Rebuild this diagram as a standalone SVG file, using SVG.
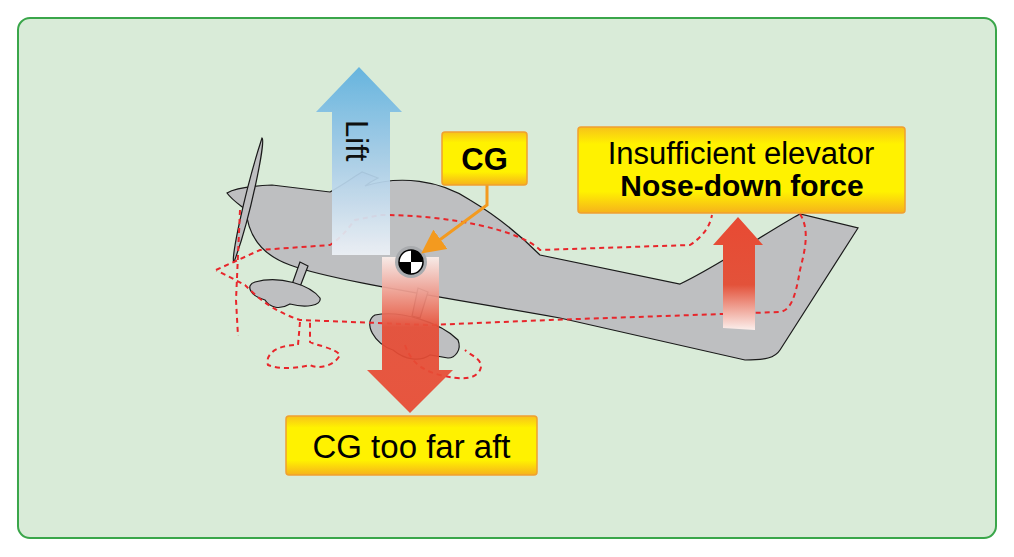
<svg xmlns="http://www.w3.org/2000/svg" width="1014" height="557" viewBox="0 0 1014 557">
<defs>
<linearGradient id="yel" x1="0" y1="0" x2="0" y2="1"><stop offset="0" stop-color="#f7c21a"/><stop offset="0.2" stop-color="#fff200"/><stop offset="0.75" stop-color="#fff200"/><stop offset="1" stop-color="#f6b21c"/></linearGradient>
<linearGradient id="lift" x1="0" y1="0" x2="0" y2="1"><stop offset="0" stop-color="#5eb1df"/><stop offset="0.5" stop-color="#a8cde8"/><stop offset="1" stop-color="#eef2f7"/></linearGradient>
<linearGradient id="down" x1="0" y1="0" x2="0" y2="1"><stop offset="0" stop-color="#fbeeea"/><stop offset="0.45" stop-color="#e64d36"/><stop offset="1" stop-color="#e84a33"/></linearGradient>
<linearGradient id="up" x1="0" y1="0" x2="0" y2="1"><stop offset="0" stop-color="#e84a33"/><stop offset="0.6" stop-color="#e3523a"/><stop offset="1" stop-color="#fbefec"/></linearGradient>
<marker id="oa" markerWidth="8" markerHeight="8" refX="6" refY="4" orient="auto" markerUnits="strokeWidth"><path d="M0,0 L8,4 L0,8 z" fill="#f39a1f"/></marker>
</defs>
<style>
.box{fill:url(#yel);stroke:#f0a030;stroke-width:1.5}
.t{font-family:"Liberation Sans",Arial,sans-serif;fill:#000}
.plane{fill:#bebfc1;stroke:#1a1a1a;stroke-width:1.2}
.ghost{fill:none;stroke:#e8262b;stroke-width:2;stroke-dasharray:5,4}
</style>
<rect x="18" y="18" width="978" height="520" rx="12" fill="#d9ebd8" stroke="#3aa64a" stroke-width="2"/>
<g id="airplane">
<path class="plane" d="M227,193 C235,188 250,186 272,185 L330,192 C345,184 355,176 362,172 L378,178 C370,182 365,186 365,186 C400,175 440,180 470,200 C500,218 525,240 540,255 L680,284 C720,265 770,230 800,214 L858,228 L780,350 C775,358 765,360 745,360 L560,318 C430,295 330,280 290,265 C262,255 248,235 246,210 C240,205 232,200 227,193 Z"/>
<path class="plane" d="M300,262 L290,290 L298,292 L308,266 Z"/>
<path class="plane" d="M255,282 C280,275 310,285 320,298 C322,306 305,308 290,304 C280,310 270,308 265,300 C250,296 245,285 255,282 Z"/>
<path class="plane" d="M418,288 L412,316 L420,318 L428,292 Z"/>
<path class="plane" d="M375,315 C400,310 440,322 458,340 C462,350 455,358 448,358 L430,355 C420,362 405,360 393,350 C375,345 362,322 375,315 Z"/>
<path class="plane" d="M262,138 C266,140 250,220 234,262 C230,262 245,190 262,138 Z"/>
<path class="ghost" d="M240,210 L236,300 L238,336 M216,270 L260,250 L330,245 C345,235 350,225 355,220 L380,215 C450,215 520,230 540,250 L690,245 C705,235 710,225 712,215 M800,214 C810,230 805,250 800,270 C795,300 790,310 780,312 L550,320 L430,325 L300,320 C270,310 255,295 245,285 L216,270 M300,322 L298,345 C275,345 265,355 268,365 C280,370 300,368 310,365 C320,370 335,365 340,355 C335,348 315,345 310,342 L310,322 M405,345 C410,360 420,370 440,375 C460,380 475,380 480,370 C485,360 470,355 465,350"/>
</g>
<g id="lift-arrow" opacity="0.93">
<path d="M332,255 L332,112 L316,112 L359,67 L402,112 L390,112 L390,255 Z" fill="url(#lift)"/>
<text class="t" x="346" y="120" font-size="31" transform="rotate(90 346 120)">Lift</text>
</g>
<g id="down-arrow" opacity="0.93">
<path d="M382,257 L398,257 A12,12 0 0 0 424,257 L439,257 L439,370 L453,370 L410,413 L367,370 L382,370 Z" fill="url(#down)"/>
</g>
<g id="up-arrow">
<path d="M723,328 L723,245 L713,245 L738,217 L763,245 L755,245 L755,330 Z" fill="url(#up)"/>
</g>
<g id="cg-symbol">
<circle cx="411" cy="262" r="16" fill="#a9abae"/>
<circle cx="411" cy="262" r="12" fill="#fff" stroke="#000" stroke-width="1.5"/>
<path d="M411,262 L411,250 A12,12 0 0 1 423,262 Z M411,262 L411,274 A12,12 0 0 1 399,262 Z" fill="#000"/>
</g>
<g id="connectors">
<path d="M487,185 L487,205 L426,250" fill="none" stroke="#f39a1f" stroke-width="3" marker-end="url(#oa)"/>
</g>
<g id="cg-label">
<rect class="box" x="442" y="132" width="85" height="53" rx="3"/>
<text class="t" x="484.5" y="170" font-size="31" font-weight="bold" text-anchor="middle">CG</text>
</g>
<g id="elevator-label">
<rect class="box" x="578" y="127" width="327" height="86" rx="3"/>
<text class="t" x="741" y="164" font-size="31" text-anchor="middle">Insufficient elevator</text>
<text class="t" x="742" y="196" font-size="30" font-weight="bold" text-anchor="middle">Nose-down force</text>
</g>
<g id="aft-label">
<rect class="box" x="286" y="416" width="251" height="59" rx="3"/>
<text class="t" x="411.5" y="458" font-size="33" text-anchor="middle">CG too far aft</text>
</g>
</svg>
